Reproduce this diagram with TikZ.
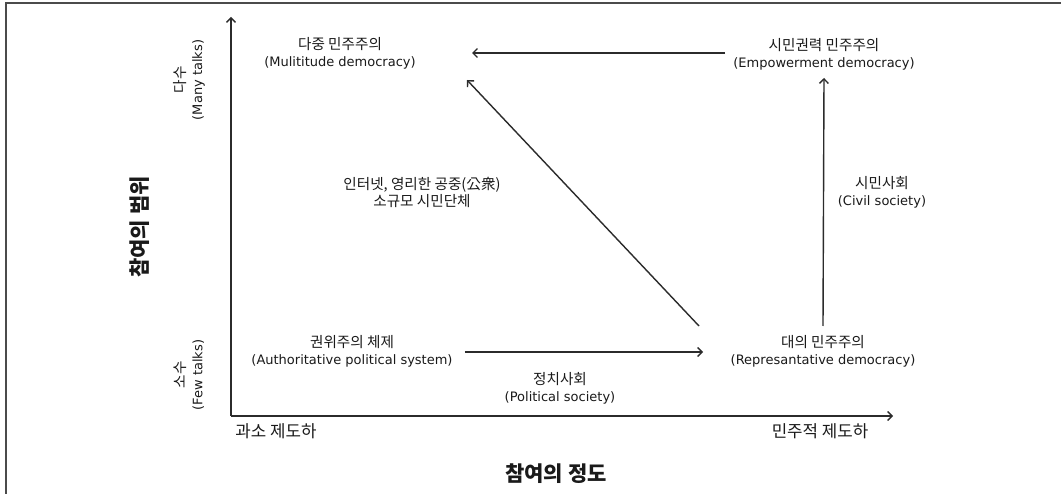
\documentclass[tikz,border=0pt]{standalone}
\usepackage{fontspec}
\setmainfont{Noto Sans CJK KR}
\newfontfamily\enfont{DejaVu Sans}
\usetikzlibrary{arrows.meta}
\definecolor{ln}{HTML}{2B2B2B}
\definecolor{tx}{HTML}{1A1A1A}
\newcommand{\kr}{\fontsize{14.6}{17}\selectfont}
\newcommand{\en}{\enfont\fontsize{13}{17}\selectfont}
\begin{document}
\begin{tikzpicture}[x=1pt,y=-1pt,
  lbl/.style={align=center,inner sep=0pt,text=tx,font=\fontsize{14.6}{17}\selectfont},
  axl/.style={inner sep=0pt,text=tx,font=\fontsize{16.8}{20}\selectfont},
  ttl/.style={inner sep=0pt,text=tx,font=\bfseries\fontsize{21}{24}\selectfont},
  axis/.style={line width=1.5pt,draw=ln,-{Straight Barb[length=4.5pt,width=9pt,line width=1.4pt]}},
  arr/.style={line width=1.4pt,draw=ln,-{Straight Barb[length=4.5pt,width=9pt,line width=1.4pt]}},
  frame/.style={line width=2pt,draw=ln!85}]
\useasboundingbox (0,0) rectangle (1061,494);
\fill[white] (0,0) rectangle (1061,494);
% frame (top and left edges)
\draw[frame] (6,494) -- (6,3) -- (1061,3);
% axes
\coordinate (O) at (231,416);
\coordinate (Ytip) at (231,17);
\coordinate (Xtip) at (893,416);
\draw[axis] (O) -- (Ytip);
\draw[axis] (O) -- (Xtip);
% nodes
\node[lbl] (mul) at (340,53) {\kr 다중 민주주의\\ \en (Mulititude democracy)};
\node[lbl] (emp) at (824,54) {\kr 시민권력 민주주의\\ \en (Empowerment democracy)};
\node[lbl] (net) at (422,192) {\kr 인터넷, 영리한 공중(公衆)\\ \kr 소규모 시민단체};
\node[lbl] (civ) at (882,192) {\kr 시민사회\\ \en (Civil society)};
\node[lbl] (auth) at (352,351) {\kr 권위주의 체제\\ \en (Authoritative political system)};
\node[lbl] (rep) at (823,351) {\kr 대의 민주주의\\ \en (Represantative democracy)};
\node[lbl] (pol) at (560,388) {\kr 정치사회\\ \en (Political society)};
\node[axl] (low) at (276,431) {과소 제도하};
\node[axl] (high) at (820,431) {민주적 제도하};
\node[ttl] (xt) at (556,474) {참여의 정도};
\node[ttl,rotate=90] (yt) at (140,227) {참여의 범위};
\node[lbl,rotate=90] (many) at (189,80) {\kr 다수\\ \en (Many talks)};
\node[lbl,rotate=90] (few) at (189,375) {\kr 소수\\ \en (Few talks)};
% connectors
\coordinate (dS) at (699,326);
\coordinate (dE) at (467,80);
\draw[arr] (emp.west |- 0,53) ++(-8,0) coordinate (eS) -- (472,53) coordinate (eE);
\draw[arr] (auth.east |- 0,352) ++(12,0) coordinate (aS) -- (703,352) coordinate (aE);
\draw[arr] (rep.north |- 0,326) coordinate (rS) -- (824,78) coordinate (rE);
\draw[arr] (dS) -- (dE);
\end{tikzpicture}
\end{document}
